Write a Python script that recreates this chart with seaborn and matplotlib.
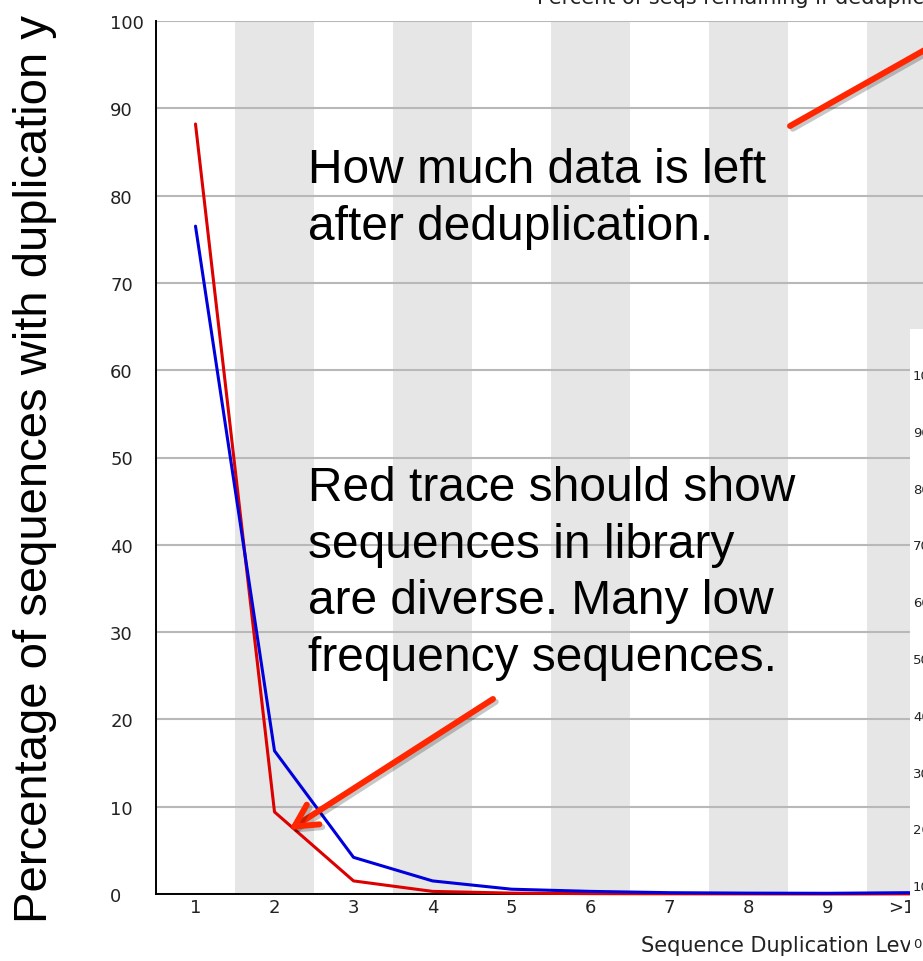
import matplotlib
matplotlib.use("Agg")
import matplotlib.pyplot as plt
import matplotlib.patheffects as pe
from matplotlib.patches import Rectangle, FancyArrowPatch
from matplotlib.transforms import IdentityTransform
import numpy as np
import pandas as pd
import seaborn as sns

# Duplication levels and the percentage traces (FastQC style)
levels = ["1", "2", "3", "4", "5", "6", "7", "8", "9",
          ">10", ">50", ">100", ">500", ">1k", ">5k", ">10k"]
pct_dedup = [88.2, 9.4, 1.5, 0.3, 0.1, 0.04, 0.02, 0.01, 0.0,
             0.01, 0.0, 0.0, 0.0, 0.0, 0.0, 0.0]
pct_total = [76.5, 16.4, 4.2, 1.5, 0.55, 0.3, 0.15, 0.1, 0.08,
             0.15, 0.05, 0.02, 0.0, 0.0, 0.0, 0.0]
y_ticks = list(range(0, 101, 10))
inset_ticks = list(range(0, 101, 10))

title_text = "Percent of seqs remaining if deduplicated 83.71%"
xlabel_text = "Sequence Duplication Level"
side_label = "Percentage of sequences with duplication y"
note_top = "How much data is left\nafter deduplication."
note_mid = "Red trace should show\nsequences in library\nare diverse. Many low\nfrequency sequences."

sns.set_style("white")
plt.rcParams["font.family"] = ["DejaVu Sans"]

W, H = 923, 962
fig = plt.figure(figsize=(W / 100, H / 100), dpi=100)

# main plot area (continues past the right edge of the canvas)
x0, x_bot, x_top, step = 156, 895, 22, 79
ax = fig.add_axes([x0 / W, (H - x_bot) / H, len(levels) * step / W, (x_bot - x_top) / H])

pos = np.arange(1, len(levels) + 1)
df = pd.DataFrame({
    "pos": np.concatenate([pos, pos]),
    "pct": pct_dedup + pct_total,
    "series": ["dedup"] * len(levels) + ["total"] * len(levels),
})

# alternating category bands
for p in pos:
    if p % 2 == 0:
        ax.axvspan(p - 0.5, p + 0.5, color="#e6e6e6", lw=0, zorder=0.5)

sns.lineplot(data=df, x="pos", y="pct", hue="series", hue_order=["dedup", "total"],
             palette={"dedup": "#dc0000", "total": "#0000dc"}, linewidth=2.2,
             legend=False, sort=False, ax=ax, zorder=3)
for ln in ax.lines:
    ln.set_clip_on(False)

ax.set_xlim(0.5, len(levels) + 0.5)
ax.set_ylim(0, 100)
ax.set_axisbelow("line")
ax.yaxis.grid(True, color="#b8b8b8", lw=1.5)
ax.xaxis.grid(False)
for s in ["top", "right"]:
    ax.spines[s].set_visible(False)
for s in ["left", "bottom"]:
    ax.spines[s].set_color("black")
    ax.spines[s].set_linewidth(1.4)

ax.set_yticks(y_ticks)
ax.set_yticklabels([str(v) for v in y_ticks])
for lab in ax.get_yticklabels():
    lab.set_horizontalalignment("left")
ax.tick_params(axis="y", direction="in", length=3, width=1, pad=33,
               labelsize=13, labelcolor="#222222", color="#555555")
ax.set_xticks(pos)
ax.set_xticklabels(levels)
ax.tick_params(axis="x", length=0, pad=3, labelsize=13, labelcolor="#222222")
ax.set_ylabel("")

ax.set_xlabel(xlabel_text, fontsize=15, color="#222222", ha="left", va="top")
ax.xaxis.set_label_coords(641 / W, 1 - 936 / H, transform=fig.transFigure)

fig.text(537 / W, 1 - 4 / H, title_text, fontsize=15, color="#222222",
         ha="left", va="baseline")

# second panel peeking in at the right edge
panel = Rectangle((910 / W, 0), 1.0, (H - 330) / H, transform=fig.transFigure,
                  facecolor="white", edgecolor="none", zorder=1)
fig.add_artist(panel)
ax2 = fig.add_axes([935 / W, 19 / H, 0.5, (943 - 375) / H])
ax2.set_zorder(2)
ax2.set_ylim(0, 100)
ax2.set_yticks(inset_ticks)
ax2.set_yticklabels([str(v) for v in inset_ticks])
for lab in ax2.get_yticklabels():
    lab.set_horizontalalignment("left")
ax2.tick_params(axis="y", length=0, pad=15.8, labelsize=9.5, labelcolor="#222222")
ax2.set_xticks([])

# slide annotations
fig.text(47 / W, 1 - 923 / H, side_label, rotation=90, rotation_mode="anchor",
         ha="left", va="baseline", fontsize=34, family="Liberation Sans",
         color="black")
fig.text(308 / W, 1 - 240 / H, note_top, ha="left", va="baseline", fontsize=34.5,
         family="Liberation Sans", color="black", linespacing=1.35)
fig.text(308 / W, 1 - 671 / H, note_mid, ha="left", va="baseline", fontsize=34.5,
         family="Liberation Sans", color="black", linespacing=1.33)

shadow = [pe.SimpleLineShadow(offset=(2, -2), shadow_color="black", alpha=0.22),
          pe.Normal()]
arrow_color = "#ff2600"
arr1 = FancyArrowPatch((790, H - 127), (1100, H + 48), transform=IdentityTransform(),
                       arrowstyle="->,head_length=0.8,head_width=0.42", mutation_scale=20,
                       color=arrow_color, lw=4.3, shrinkA=0, shrinkB=0, zorder=5)
arr1.set_path_effects(shadow)
fig.add_artist(arr1)
arr2 = FancyArrowPatch((493, H - 700), (289, H - 831), transform=IdentityTransform(),
                       arrowstyle="->,head_length=0.8,head_width=0.42", mutation_scale=20,
                       color=arrow_color, lw=4.3, shrinkA=0, shrinkB=0, zorder=5)
arr2.set_path_effects(shadow)
fig.add_artist(arr2)

fig.savefig("out.png", dpi=100)
